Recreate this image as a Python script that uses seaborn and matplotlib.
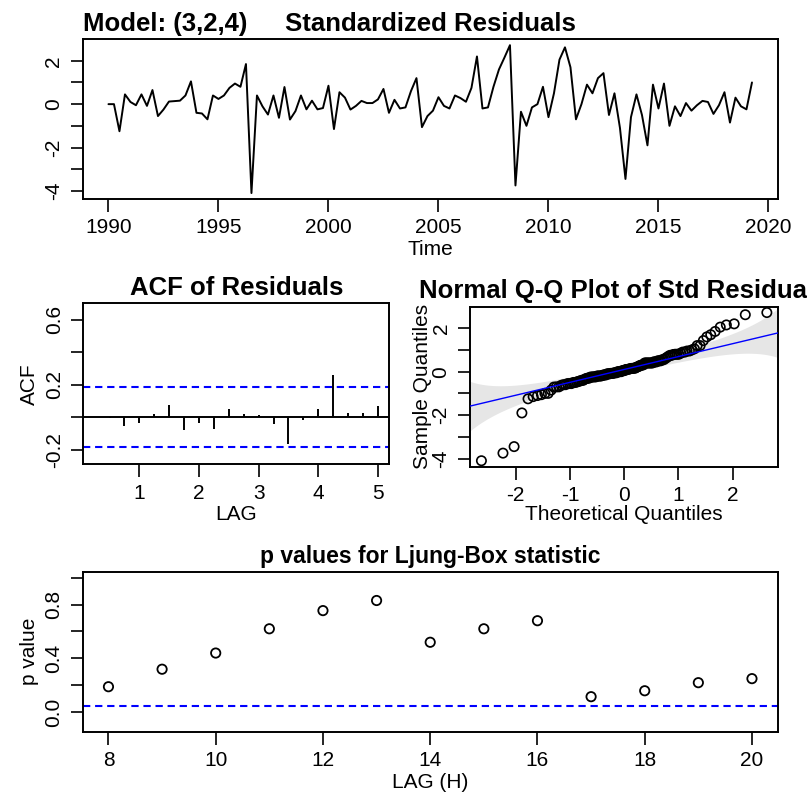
"""SARIMA(3,2,4) residual diagnostics, redrawn in seaborn."""

from statistics import NormalDist

import matplotlib

matplotlib.use("Agg")
import matplotlib.pyplot as plt
import numpy as np
import seaborn as sns


MODEL_ORDER = "(3,2,4)"
START_YEAR = 1990
FREQUENCY = 4

# standardized residuals, quarterly from 1990 Q1
RESIDUALS = [
    0.0, 0.0, -1.25, 0.45, 0.1, -0.05, 0.45, -0.08, 0.65, -0.55,
    -0.25, 0.12, 0.14, 0.16, 0.4, 1.05, -0.4, -0.43, -0.7, 0.4,
    0.24, 0.4, 0.75, 0.95, 0.8, 1.85, -4.1, 0.4, -0.1, -0.48,
    0.4, -0.63, 0.79, -0.71, -0.32, 0.4, -0.24, 0.16, -0.24, -0.18,
    0.85, -1.15, 0.55, 0.3, -0.25, -0.08, 0.15, 0.05, 0.05, 0.22,
    0.7, -0.4, 0.2, -0.2, -0.15, 0.6, 1.2, -1.06, -0.55, -0.3,
    0.32, -0.08, -0.2, 0.4, 0.28, 0.11, 0.75, 2.2, -0.2, -0.15,
    0.8, 1.6, 2.15, 2.72, -3.75, -0.35, -1.0, -0.15, 0.0, 0.8,
    -0.6, 0.5, 2.05, 2.62, 1.7, -0.7, 0.0, 0.9, 0.5, 1.2,
    1.43, -0.5, 0.5, -1.1, -3.45, -0.6, 0.45, -0.5, -1.9, 0.9,
    -0.2, 0.95, -1.0, -0.1, -0.55, 0.05, -0.3, -0.05, 0.15, 0.1,
    -0.45, -0.05, 0.55, -0.85, 0.3, -0.1, -0.24, 1.0,
]

ACF_LAGS = [0.25, 0.5, 0.75, 1.0, 1.25, 1.5, 1.75, 2.0, 2.25, 2.5,
            2.75, 3.0, 3.25, 3.5, 3.75, 4.0, 4.25, 4.5, 4.75, 5.0]
ACF_VALUES = [0.003, -0.004, -0.057, -0.035, 0.016, 0.076, -0.082, -0.035, -0.072, 0.051,
              0.016, 0.014, -0.045, -0.164, -0.02, 0.051, 0.261, 0.027, 0.027, 0.066]

LB_LAGS = [8, 9, 10, 11, 12, 13, 14, 15, 16, 17, 18, 19, 20]
LB_PVALUES = [0.19, 0.32, 0.44, 0.62, 0.755, 0.83, 0.52, 0.62, 0.68, 0.116, 0.16, 0.22, 0.25]

BLUE = "#0000FF"
TICK_SIZE = 15
TITLE_SIZE = 18.5


def r_range(lo, hi):
    pad = 0.04 * (hi - lo)
    return lo - pad, hi + pad


def r_axes(ax):
    for spine in ax.spines.values():
        spine.set_visible(True)
        spine.set_color("black")
        spine.set_linewidth(1.4)
    ax.tick_params(direction="out", length=9, width=1.2, labelsize=TICK_SIZE, pad=5,
                   colors="black", left=True, bottom=True)
    ax.grid(False)


def main() -> None:
    sns.set_theme(style="white")
    plt.rcParams["font.family"] = ["Liberation Sans", "DejaVu Sans"]
    plt.rcParams["axes.labelsize"] = TICK_SIZE
    plt.rcParams["axes.unicode_minus"] = False
    plt.rcParams["text.color"] = "black"
    plt.rcParams["axes.labelcolor"] = "black"
    plt.rcParams["xtick.color"] = "black"
    plt.rcParams["ytick.color"] = "black"

    resid = np.array(RESIDUALS)
    n = len(resid)
    time = START_YEAR + np.arange(n) / FREQUENCY

    fig = plt.figure(figsize=(8.07, 8.01), dpi=100)
    ax_ts = fig.add_axes([0.1025, 0.7516, 0.8612, 0.1994])
    ax_acf = fig.add_axes([0.1032, 0.4204, 0.3792, 0.2010])
    ax_qq = fig.add_axes([0.5824, 0.4174, 0.3820, 0.1998])
    ax_lb = fig.add_axes([0.1025, 0.0865, 0.8612, 0.1998])

    # standardized residuals
    sns.lineplot(x=time, y=resid, color="black", linewidth=1.4, ax=ax_ts)
    ax_ts.set_xlim(*r_range(time.min(), time.max()))
    ax_ts.set_ylim(*r_range(resid.min(), resid.max()))
    ax_ts.set_xticks(range(1990, 2021, 5))
    ax_ts.set_yticks([-4, -3, -2, -1, 0, 1, 2])
    ax_ts.set_yticklabels(["-4", "", "-2", "", "0", "", "2"], rotation=90, va="center")
    ax_ts.set_xlabel("Time", labelpad=2)
    ax_ts.set_ylabel("")
    ax_ts.set_title("Standardized Residuals", fontsize=TITLE_SIZE, fontweight="bold", pad=6)
    ax_ts.set_title(f"Model: {MODEL_ORDER}", loc="left", fontsize=TITLE_SIZE,
                    fontweight="bold", pad=6)
    r_axes(ax_ts)

    # ACF of residuals
    bound = 2 / np.sqrt(n)
    ax_acf.vlines(ACF_LAGS, 0, ACF_VALUES, color="black", linewidth=1.4)
    ax_acf.axhline(0, color="black", linewidth=1.4)
    for level in (bound, -bound):
        ax_acf.axhline(level, color=BLUE, linewidth=1.5, linestyle=(0, (3.5, 2.3)))
    ax_acf.set_xlim(*r_range(ACF_LAGS[0], ACF_LAGS[-1]))
    ax_acf.set_ylim(-0.29, 0.70)
    ax_acf.set_xticks([1, 2, 3, 4, 5])
    ax_acf.set_yticks([-0.2, 0.0, 0.2, 0.4, 0.6])
    ax_acf.set_yticklabels(["-0.2", "", "0.2", "", "0.6"], rotation=90, va="center")
    ax_acf.set_xlabel("LAG", labelpad=2)
    ax_acf.set_ylabel("ACF", labelpad=4)
    ax_acf.set_title("ACF of Residuals", fontsize=TITLE_SIZE, fontweight="bold", pad=6)
    r_axes(ax_acf)

    # normal Q-Q plot with band
    norm = NormalDist()
    probs = (np.arange(1, n + 1) - 0.5) / n
    theo = np.array([norm.inv_cdf(p) for p in probs])
    sample = np.sort(resid)
    q25, q75 = np.quantile(resid, [0.25, 0.75])
    slope = (q75 - q25) / (norm.inv_cdf(0.75) - norm.inv_cdf(0.25))
    intercept = q25 - slope * norm.inv_cdf(0.25)
    xlim = r_range(theo.min(), theo.max())
    grid = np.linspace(xlim[0], xlim[1], 200)
    cdf = np.array([norm.cdf(z) for z in grid])
    pdf = np.array([norm.pdf(z) for z in grid])
    se = slope * np.sqrt(cdf * (1 - cdf) / n) / pdf
    fit = intercept + slope * grid
    ax_qq.fill_between(grid, fit - 3.1 * se, fit + 3.1 * se, color="#E6E6E6", linewidth=0, zorder=1)
    sns.scatterplot(x=theo, y=sample, marker="o", facecolor="none", edgecolor="black",
                    linewidth=1.2, s=45, ax=ax_qq, zorder=2)
    ax_qq.plot(grid, fit, color=BLUE, linewidth=1.0, zorder=3)
    ax_qq.set_xlim(*xlim)
    ax_qq.set_ylim(*r_range(sample.min(), sample.max()))
    ax_qq.set_xticks([-2, -1, 0, 1, 2])
    ax_qq.set_yticks([-4, -3, -2, -1, 0, 1, 2])
    ax_qq.set_yticklabels(["-4", "", "-2", "", "0", "", "2"], rotation=90, va="center")
    ax_qq.set_xlabel("Theoretical Quantiles", labelpad=0)
    ax_qq.set_ylabel("Sample Quantiles", labelpad=0)
    # the reference title runs past the right edge of the figure
    ax_qq.set_title("Normal Q-Q Plot of Std Residuals", fontsize=TITLE_SIZE,
                    fontweight="bold", pad=6)
    r_axes(ax_qq)

    # Ljung-Box p values
    sns.scatterplot(x=LB_LAGS, y=LB_PVALUES, marker="o", facecolor="none", edgecolor="black",
                    linewidth=1.3, s=45, ax=ax_lb, zorder=3)
    ax_lb.axhline(0.05, color=BLUE, linewidth=1.5, linestyle=(0, (3.5, 2.3)))
    ax_lb.set_xlim(*r_range(LB_LAGS[0], LB_LAGS[-1]))
    ax_lb.set_ylim(*r_range(-0.1, 1.0))
    ax_lb.set_xticks(range(8, 21, 2))
    ax_lb.set_yticks([0.0, 0.2, 0.4, 0.6, 0.8, 1.0])
    ax_lb.set_yticklabels(["0.0", "", "0.4", "", "0.8", ""], rotation=90, va="center")
    ax_lb.set_xlabel("LAG (H)", labelpad=2)
    ax_lb.set_ylabel("p value", labelpad=4)
    ax_lb.set_title("p values for Ljung-Box statistic", fontsize=16.5, fontweight="bold", pad=6)
    r_axes(ax_lb)

    fig.savefig("out.png", dpi=100)
    plt.close(fig)


if __name__ == "__main__":
    main()
